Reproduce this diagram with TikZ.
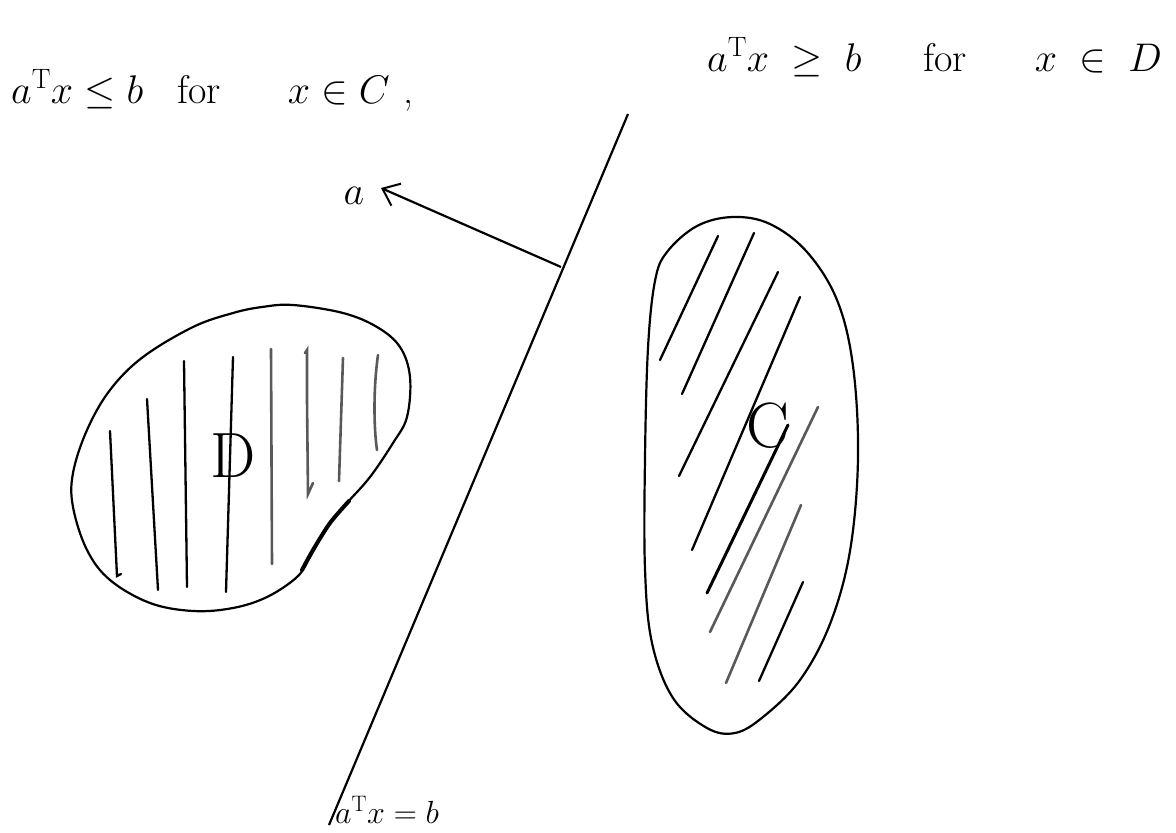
\documentclass[tikz,border=0pt]{standalone}
\usepackage{fix-cm}
\usetikzlibrary{arrows.meta}
\begin{document}
\begin{tikzpicture}[x=1pt,y=-1pt,
  outline/.style={line width=2.2pt, line join=round},
  thickpart/.style={line width=4pt, line cap=round},
  hatch/.style={line width=2.3pt, line cap=round},
  phatch/.style={line width=2.6pt, line cap=round, black!65},
  arr/.style={line width=2.2pt, -{Straight Barb[length=15pt,width=24pt,line width=2pt]}},
  bigtxt/.style={inner sep=0pt, font=\fontsize{40}{48}\selectfont},
  smalltxt/.style={inner sep=0pt, font=\fontsize{32}{38}\selectfont},
  setlbl/.style={inner sep=0pt, font=\fontsize{64}{72}\selectfont}]
\useasboundingbox (0,0) rectangle (1176,833);

% texts
\node[bigtxt, anchor=base west] (ineqC) at (11,103)
  {$a^{\mathrm{T}}x\le b$\hspace{34pt}for\hspace{67pt}$x\in C$\hspace{14pt},};
\node[bigtxt, anchor=base west] (ineqD) at (707,71)
  {$a^{\mathrm{T}}x\;\ge\; b$\hspace{62pt}for\hspace{68pt}$x\;\in\; D$};

% separating line
\coordinate (Ltop) at (628,114);
\coordinate (Lbot) at (329,825);
\draw[outline] (Ltop) -- (Lbot);
\node[smalltxt, anchor=base west] (hyp) at (335,823) {$a^{\mathrm{T}}x=b$};

% normal vector
\coordinate (tail) at (561,267);
\coordinate (tip) at (381,188);
\node[bigtxt, anchor=base] (alab) at (354,204) {$a$};
\draw[arr] (tail) -- (tip);

% set D (left)
\draw[outline] plot[smooth cycle, tension=0.6] coordinates {
 (262,307) (293,305) (343,313) (377,327) (400,347) (410,377) (407,417)
 (393,443) (370,477) (347,503) (327,527) (310,557) (297,577) (267,597)
 (233,608) (193,611) (150,603) (110,580) (87,550) (73,507) (73,473)
 (87,430) (110,390) (143,357) (193,327) (233,313)};
\draw[thickpart] plot[smooth] coordinates {(349,501) (330,523) (313,550) (302,570)};
\draw[hatch] (110,431) -- (117,576) -- (121,574);
\draw[hatch] (147,399) -- (158,590);
\draw[hatch] (184,361) -- (187,587);
\draw[hatch] (233,357) -- (226,592);
\draw[phatch] (271,349) -- (272,564);
\draw[phatch] (305,353) -- (307,350) -- (307,400) -- (308,494) -- (313,483);
\draw[phatch] (343,358) -- (339,481);
\draw[phatch] (378,355) .. controls (373,390) and (374,430) .. (377,450);
\node[setlbl] (Dlab) at (233,456) {D};

% set C (right)
\draw[outline] plot[smooth cycle, tension=0.6] coordinates {
 (733,217) (770,224) (807,252) (837,300) (853,366) (858,458) (850,551)
 (830,624) (800,680) (763,717) (735,733) (707,728) (673,698) (652,643)
 (645,569) (645,458) (648,348) (655,281) (667,252) (697,226)};
\draw[hatch] (718,236) -- (660,360);
\draw[hatch] (754,233) -- (682,394);
\draw[hatch] (778,272) -- (679,476);
\draw[hatch] (800,297) -- (692,550);
\draw[hatch, line width=3pt] (788,425) -- (707,593);
\draw[phatch] (818,407) -- (710,632);
\draw[phatch] (801,505) -- (726,683);
\draw[hatch] (803,582) -- (759,681);
\node[setlbl] (Clab) at (768,426) {C};
\end{tikzpicture}
\end{document}
